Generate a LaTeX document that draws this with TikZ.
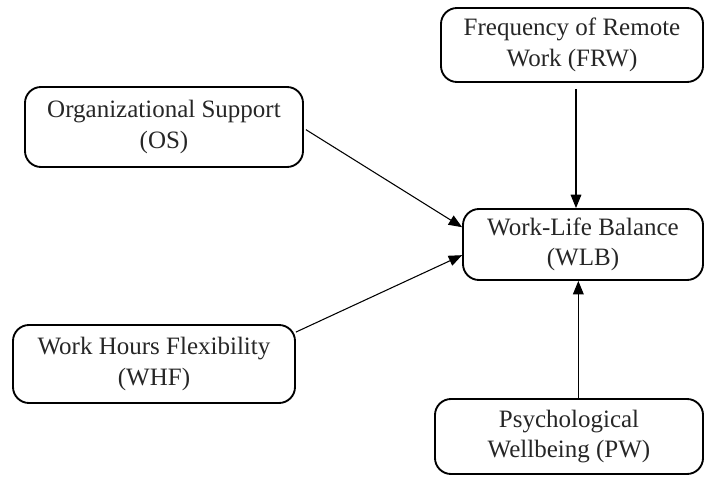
\documentclass[tikz,border=0pt]{standalone}
\usepackage{fontspec}
\setmainfont{Liberation Serif}
\usetikzlibrary{positioning,arrows.meta}

\begin{document}
\begin{tikzpicture}[
    x=0.75pt, y=-0.75pt,
    box/.style={draw, line width=1.4pt, rounded corners=12pt, align=center,
        inner sep=0pt, text=black!85, font=\fontsize{18.75}{23}\selectfont},
    link/.style={draw, line width=0.8pt, -{Triangle[length=10pt,width=8pt]}}
]
    \useasboundingbox (0,0) rectangle (705,477);
    % Constructs
    \node[box, minimum width=196.5pt, minimum height=55.5pt] (FRW) at (572,45)
        {Frequency of Remote\\Work (FRW)};
    \node[box, minimum width=208.5pt, minimum height=60pt] (OS) at (164,127)
        {Organizational Support\\(OS)};
    \node[box, minimum width=180pt, minimum height=53.25pt] (WLB) at (583,244.5)
        {Work-Life Balance\\(WLB)};
    \node[box, minimum width=211.5pt, minimum height=58.5pt] (WHF) at (154,364)
        {Work Hours Flexibility\\(WHF)};
    \node[box, minimum width=201pt, minimum height=56.25pt] (PW) at (569,436.5)
        {Psychological\\Wellbeing (PW)};
    % Paths
    \draw[link] ([xshift=1.5pt,yshift=-2pt]OS.east) -- ([yshift=13pt]WLB.west);
    \draw[link] ([yshift=-6pt]WHF.north east) -- ([yshift=-8pt]WLB.west);
    \draw[link] ([xshift=3pt,yshift=-4.5pt]FRW.south) -- ([xshift=3pt]FRW.south |- WLB.north);
    \draw[link] ([xshift=7pt]PW.north) -- ([xshift=7pt]PW.north |- WLB.south);
\end{tikzpicture}
\end{document}
